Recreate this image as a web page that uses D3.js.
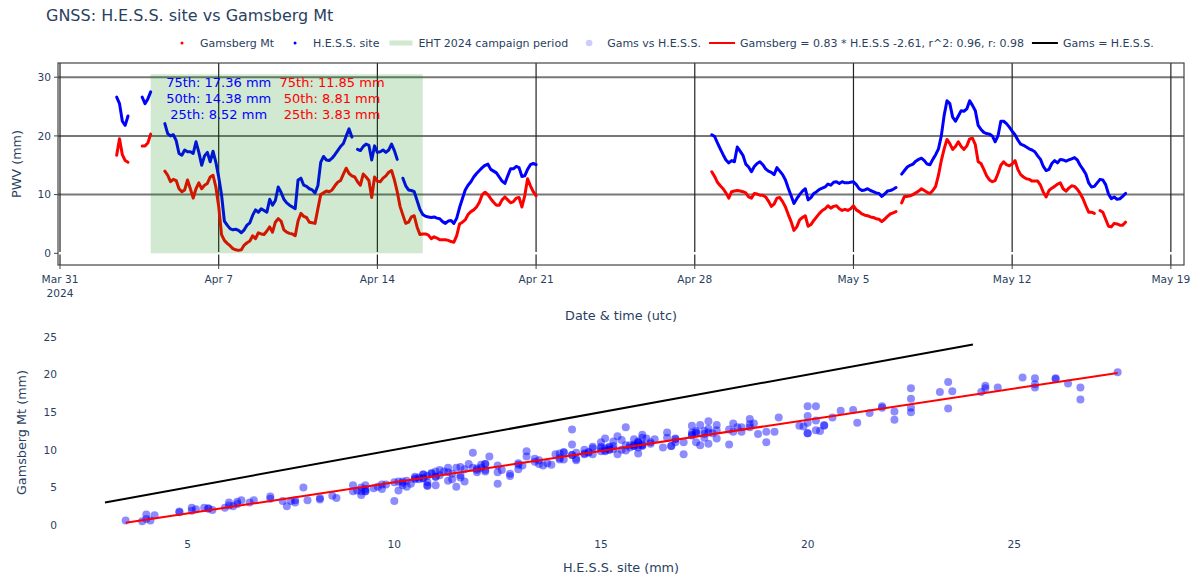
<!DOCTYPE html>
<html><head><meta charset="utf-8">
<script src="https://cdn.jsdelivr.net/npm/d3@7"></script>
<style>body{margin:0;background:#fff}svg{font-family:Verdana,"DejaVu Sans",sans-serif}</style>
</head><body><svg id="c" width="1198" height="580"></svg>
<script>
// ---------------- data ----------------
const chartTitle = "GNSS: H.E.S.S. site vs Gamsberg Mt";
const sampleStepHours = 3;
const segmentStarts = ["2024-04-02T12:00:00Z", "2024-04-03T15:00:00Z", "2024-04-04T15:00:00Z", "2024-04-28T18:00:00Z"];
// H.E.S.S. site PWV (mm), one value every 3 h from each segment start
const hessSeg1 = [26.6, 25.5, 22.5, 21.8, 23.4];
const hessSeg2 = [26.6, 25.5, 26.3, 27.5];
const hessSeg3 = [22.1, 20.4, 20.0,
  20.2, 19.2, 17.0, 16.7, 17.6, 17.3, 17.3, 17.0,
  19.0, 17.2, 15.0, 16.6, 17.2, 15.6, 17.4, 15.5,
  13.0, 10.0, 5.5, 4.8, 4.2, 4.0, 4.1, 3.9,
  3.5, 4.0, 4.8, 5.2, 6.5, 7.4, 7.0, 7.6,
  7.3, 7.0, 9.2, 8.2, 9.0, 11.3, 10.4, 9.2,
  8.6, 8.2, 7.9, 7.6, 12.5, 12.8, 11.6, 11.4,
  11.0, 10.8, 10.3, 11.5, 15.5, 16.5, 15.9, 15.8,
  16.2, 16.8, 17.5, 18.2, 18.7, 20.0, 21.2, 19.8,
  null, 17.7, 17.5, 18.2, 18.6, 18.4, 15.9, 18.3,
  17.2, 17.3, 17.6, 17.2, 17.6, 18.6, 17.5, 16.0,
  null, 12.8, 11.5, 10.8, 10.7, 10.5, 9.0, 7.5,
  6.6, 6.3, 6.2, 6.1, 6.2, 6.0, 5.9, 5.4,
  5.1, 5.5, 5.6, 5.1, 6.0, 7.8, 9.3, 10.8,
  11.6, 12.2, 13.0, 13.6, 14.1, 14.6, 15.0, 15.2,
  14.3, 14.0, 13.7, 13.0, 12.3, 11.9, 13.2, 14.4,
  14.4, 14.8, 14.6, 13.1, 13.2, 14.3, 15.1, 15.3,
  15.1];
const hessSeg4 = [20.2, 19.9,
  18.8, 17.8, 16.8, 15.9, 15.4, 15.8, 15.6, 18.1,
  17.4, 16.7, 15.2, 14.7, 13.9, 14.8, 15.3, 15.6,
  15.1, 14.4, 14.0, 13.8, 13.4, 14.6, 14.0, 13.4,
  12.5, 11.1, 9.8, 8.5, 9.3, 10.0, 10.6, 11.0,
  9.1, 9.5, 10.2, 10.5, 10.9, 11.1, 11.3, 11.8,
  11.6, 12.1, 12.2, 11.9, 12.2, 12.0, 12.0, 12.1,
  12.2, 11.7, 11.0, 10.7, 10.8, 11.0, 10.7, 10.5,
  10.3, 10.2, 9.7, 10.1, 10.6, 10.7, 10.9, 11.2,
  null, 13.5, 14.1, 14.7, 15.0, 15.2, 15.7, 16.0,
  16.2, 15.8, 15.2, 15.1, 16.0, 16.8, 17.8, 20.0,
  23.5, 26.0, 25.5, 23.2, 22.5, 23.4, 24.3, 24.2,
  24.6, 26.0, 25.2, 24.3, 21.8, 21.1, 20.6, 20.4,
  20.3, 20.0, 19.0, 20.0, 22.5, 22.5, 22.1, 21.5,
  20.8, 20.2, 19.3, 18.6, 18.4, 18.1, 17.8, 17.6,
  17.3, 16.6, 16.0, 14.8, 14.1, 14.3, 15.3, 15.8,
  15.4, 16.0, 15.9, 15.7, 15.9, 16.1, 16.3, 15.9,
  15.0, 14.3, 13.5, 12.0, 11.3, 11.4, 12.0, 12.6,
  12.5, 11.7, 10.1, 9.3, 9.6, 9.2, 9.3, 9.7,
  10.2];
// Gamsberg Mt PWV (mm)
const gamsSeg1 = [16.7, 19.5, 16.8, 15.8, 15.5];
const gamsSeg2 = [18.3, 18.3, 18.8, 20.3];
const gamsSeg3 = [14.0, 13.3, 12.2,
  12.6, 12.4, 11.0, 10.5, 10.8, 12.5, 11.0, 9.4,
  11.0, 12.0, 11.0, 11.6, 11.9, 13.0, 13.3, 11.3,
  8.0, 3.2, 2.2, 1.7, 1.3, 0.8, 0.6, 0.5,
  0.6, 1.4, 1.8, 2.1, 3.0, 2.5, 3.5, 3.3,
  3.2, 3.8, 4.5, 3.6, 5.3, 5.9, 5.5, 4.0,
  3.6, 3.4, 3.3, 3.0, 5.5, 6.8, 6.3, 6.1,
  5.3, 5.2, 5.1, 7.6, 10.0, 10.3, 10.6, 10.5,
  10.8, 11.5, 12.1, 12.4, 13.5, 14.5, 13.6, 13.2,
  13.0, 12.2, 11.6, 13.5, 13.0, 12.4, 9.5, 13.0,
  12.3, 12.2, 12.8, 13.2, 13.8, 14.1, 12.5, 10.5,
  8.0, 6.5, 5.1, 5.3, 6.2, 6.4, 4.5, 3.2,
  3.3, 3.3, 3.1, 2.5, 2.8, 2.6, 2.3, 2.3,
  2.3, 2.2, 2.0, 1.9, 3.0, 5.0, 5.3, 5.7,
  6.6, 7.1, 7.4, 7.9, 8.7, 10.0, 10.4, 10.0,
  9.3, 8.7, 8.2, 8.2, 9.1, 9.6, 9.1, 8.6,
  8.8, 9.4, 9.5, 7.9, 9.8, 12.7, 11.5, 10.5,
  9.8];
const gamsSeg4 = [13.9, 13.1,
  12.1, 11.5, 11.0, 10.3, 9.4, 10.5, 10.6, 10.7,
  10.6, 10.5, 10.3, 9.6, 9.4, 10.2, 10.1, 9.9,
  9.9, 9.6, 8.9, 8.0, 8.4, 9.4, 9.5, 8.8,
  7.9, 6.6, 5.4, 3.9, 4.5, 5.7, 6.1, 6.4,
  4.6, 4.9, 5.6, 6.2, 6.8, 7.3, 7.6, 8.1,
  7.7, 8.0, 8.1, 7.6, 7.3, 7.5, 7.3, 7.6,
  8.1, 7.4, 7.1, 6.7, 6.5, 6.4, 6.2, 6.1,
  5.9, 5.8, 5.4, 5.8, 6.3, 6.7, 6.9, 7.1,
  null, 8.6, 9.7, 9.7, 9.8, 10.0, 10.3, 10.6,
  11.0, 10.7, 10.4, 10.2, 10.7, 11.4, 13.3, 15.8,
  17.8, 19.4, 18.7, 17.7, 18.2, 19.0, 18.2, 17.7,
  18.3, 19.5, 19.6, 18.5, 15.6, 15.3, 14.3, 13.2,
  12.5, 12.2, 12.4, 13.6, 15.0, 15.6, 15.1, 14.9,
  15.2, 15.8, 14.3, 13.4, 13.0, 12.7, 12.6, 12.3,
  12.3, 12.3, 11.6, 10.4, 9.6, 10.7, 11.1, 11.4,
  11.8, 12.0, 11.0, 10.6, 11.1, 11.5, 11.4, 10.9,
  10.2, 9.3, 8.1, 7.0, 7.0, 6.8, null, 7.3,
  7.0, 5.8, 4.6, 4.5, 5.1, 5.0, 4.8, 4.8,
  5.3];
const campaignPeriod = ["2024-04-04T00:00:00Z", "2024-04-16T00:00:00Z"];
const campaignTopPWV = 30.5;
const timeTicks = ["2024-03-31", "2024-04-07", "2024-04-14", "2024-04-21", "2024-04-28", "2024-05-05", "2024-05-12", "2024-05-19"];
const pwvTicks = [0, 10, 20, 30];
const scatterXTicks = [5, 10, 15, 20, 25];
const scatterYTicks = [0, 5, 10, 15, 20, 25];
const hessPercentileText = ["75th: 17.36 mm", "50th: 14.38 mm", "25th: 8.52 mm"];
const gamsPercentileText = ["75th: 11.85 mm", "50th: 8.81 mm", "25th: 3.83 mm"];
const hessTextAnchor = ["2024-04-07T00:00:00Z", 26.3];
const gamsTextAnchor = ["2024-04-12T00:00:00Z", 26.3];
const fitSlope = 0.83, fitIntercept = -2.61;
const identityRange = [3, 24];
const legendLabels = ["Gamsberg Mt", "H.E.S.S. site", "EHT 2024 campaign period", "Gams vs H.E.S.S.",
  "Gamsberg = 0.83 * H.E.S.S -2.61, r^2: 0.96, r: 0.98", "Gams = H.E.S.S."];

// ---------------- layout ----------------
const FONT_COLOR = "#2a3f5f";
const svg = d3.select("#c");
const P1 = {l: 58, r: 1184, t: 63, b: 265};
const P2 = {l: 62, r: 1185, t: 330, b: 535};

const x = d3.scaleUtc().domain([new Date("2024-03-30T21:53:00Z"), new Date("2024-05-19T13:55:00Z")]).range([P1.l, P1.r]);
const y = d3.scaleLinear().domain([-1.99, 32.42]).range([P1.b, P1.t]);
const xs = d3.scaleLinear().domain([1.96, 29.13]).range([P2.l, P2.r]);
const ys = d3.scaleLinear().domain([-1.33, 25.93]).range([P2.b, P2.t]);

function buildSeries(segs) {
  return segs.map((vals, k) => {
    const t0 = new Date(segmentStarts[k]).getTime();
    return vals.map((v, i) => ({t: new Date(t0 + i * sampleStepHours * 3600e3), v}));
  });
}
const hessSegs = [hessSeg1, hessSeg2, hessSeg3, hessSeg4];
const gamsSegs = [gamsSeg1, gamsSeg2, gamsSeg3, gamsSeg4];
const hessSeries = buildSeries(hessSegs);
const gamsSeries = buildSeries(gamsSegs);

// ---------------- top plot ----------------
const g1 = svg.append("g");
g1.selectAll("line.hg").data(pwvTicks.filter(d => d !== 0)).join("line")
  .attr("x1", P1.l).attr("x2", P1.r).attr("y1", d => y(d)).attr("y2", d => y(d))
  .attr("stroke", "#777").attr("stroke-width", 2);
g1.selectAll("line.vg").data(timeTicks).join("line")
  .attr("x1", d => x(new Date(d + "T00:00:00Z"))).attr("x2", d => x(new Date(d + "T00:00:00Z")))
  .attr("y1", P1.t).attr("y2", P1.b).attr("stroke", "#222").attr("stroke-width", 1.2);
g1.append("line").attr("x1", P1.l).attr("x2", P1.r).attr("y1", y(0)).attr("y2", y(0))
  .attr("stroke", "#fff").attr("stroke-width", 2.5);
g1.append("rect").attr("x", P1.l).attr("y", P1.t).attr("width", P1.r - P1.l).attr("height", P1.b - P1.t)
  .attr("fill", "none").attr("stroke", "#444").attr("stroke-width", 1.2);
g1.selectAll("line.xt").data(timeTicks).join("line")
  .attr("x1", d => x(new Date(d + "T00:00:00Z"))).attr("x2", d => x(new Date(d + "T00:00:00Z")))
  .attr("y1", P1.b).attr("y2", P1.b + 4).attr("stroke", "#444");
g1.selectAll("line.yt").data(pwvTicks).join("line")
  .attr("x1", P1.l - 4).attr("x2", P1.l).attr("y1", d => y(d)).attr("y2", d => y(d)).attr("stroke", "#444");

const line = d3.line().defined(d => d.v != null).x(d => x(d.t)).y(d => y(d.v));
function drawSeries(series, color) {
  series.forEach(seg => {
    g1.append("path").datum(seg).attr("d", line).attr("fill", "none").attr("stroke", color)
      .attr("stroke-width", 3).attr("stroke-linejoin", "round").attr("stroke-linecap", "round");
  });
}
drawSeries(gamsSeries, "#ff0000");
drawSeries(hessSeries, "#0000ff");

const c0 = x(new Date(campaignPeriod[0])), c1 = x(new Date(campaignPeriod[1]));
g1.append("rect").attr("x", c0).attr("width", c1 - c0).attr("y", y(campaignTopPWV)).attr("height", y(0) - y(campaignTopPWV))
  .attr("fill", "#008000").attr("fill-opacity", 0.18);

function annot(lines, anchor, color) {
  const ax = x(new Date(anchor[0])), ay = y(anchor[1]);
  lines.forEach((s, i) => {
    g1.append("text").attr("x", ax).attr("y", ay + (i - 1) * 16).attr("dy", "0.35em")
      .attr("text-anchor", "middle").attr("fill", color).attr("font-size", 13).text(s);
  });
}
annot(hessPercentileText, hessTextAnchor, "#0000ff");
annot(gamsPercentileText, gamsTextAnchor, "#ff0000");

const fmt = d3.utcFormat("%b %-d");
timeTicks.forEach((d, i) => {
  const t = new Date(d + "T00:00:00Z");
  g1.append("text").attr("x", x(t)).attr("y", 279).attr("dy", "0.35em").attr("text-anchor", "middle")
    .attr("font-size", 10.6).attr("fill", FONT_COLOR).text(fmt(t));
  if (i === 0) g1.append("text").attr("x", x(t)).attr("y", 293).attr("dy", "0.35em").attr("text-anchor", "middle")
    .attr("font-size", 10.6).attr("fill", FONT_COLOR).text(d3.utcFormat("%Y")(t));
});
pwvTicks.forEach(v => {
  g1.append("text").attr("x", 51).attr("y", y(v)).attr("dy", "0.35em").attr("text-anchor", "end")
    .attr("font-size", 10.6).attr("fill", FONT_COLOR).text(v);
});
g1.append("text").attr("transform", `translate(17,${(P1.t + P1.b) / 2}) rotate(-90)`).attr("dy", "0.35em")
  .attr("text-anchor", "middle").attr("font-size", 12.8).attr("fill", FONT_COLOR).text("PWV (mm)");
g1.append("text").attr("x", 621).attr("y", 316).attr("dy", "0.35em").attr("text-anchor", "middle")
  .attr("font-size", 12.8).attr("fill", FONT_COLOR).text("Date & time (utc)");

// ---------------- bottom scatter ----------------
const g2 = svg.append("g");
const pairs = [];
hessSegs.forEach((hs, k) => hs.forEach((h, i) => {
  const gm = gamsSegs[k][i];
  if (h != null && gm != null) pairs.push([h, gm]);
}));
g2.selectAll("circle").data(pairs).join("circle")
  .attr("cx", d => xs(d[0])).attr("cy", d => ys(d[1])).attr("r", 4)
  .attr("fill", "#0000ff").attr("fill-opacity", 0.45);
const hx = d3.extent(pairs, d => d[0]);
g2.append("line").attr("x1", xs(hx[0])).attr("y1", ys(fitSlope * hx[0] + fitIntercept))
  .attr("x2", xs(hx[1])).attr("y2", ys(fitSlope * hx[1] + fitIntercept))
  .attr("stroke", "#ff0000").attr("stroke-width", 2);
g2.append("line").attr("x1", xs(identityRange[0])).attr("y1", ys(identityRange[0]))
  .attr("x2", xs(identityRange[1])).attr("y2", ys(identityRange[1]))
  .attr("stroke", "#000").attr("stroke-width", 2);
scatterXTicks.forEach(v => g2.append("text").attr("x", xs(v)).attr("y", 544).attr("dy", "0.35em")
  .attr("text-anchor", "middle").attr("font-size", 10.6).attr("fill", FONT_COLOR).text(v));
scatterYTicks.forEach(v => g2.append("text").attr("x", 57).attr("y", ys(v)).attr("dy", "0.35em")
  .attr("text-anchor", "end").attr("font-size", 10.6).attr("fill", FONT_COLOR).text(v));
g2.append("text").attr("transform", `translate(22,${(P2.t + P2.b) / 2}) rotate(-90)`).attr("dy", "0.35em")
  .attr("text-anchor", "middle").attr("font-size", 12.8).attr("fill", FONT_COLOR).text("Gamsberg Mt (mm)");
g2.append("text").attr("x", 621).attr("y", 568).attr("dy", "0.35em").attr("text-anchor", "middle")
  .attr("font-size", 12.8).attr("fill", FONT_COLOR).text("H.E.S.S. site (mm)");

// ---------------- title & legend ----------------
svg.append("text").attr("x", 46).attr("y", 15).attr("dy", "0.35em").attr("font-size", 16)
  .attr("fill", FONT_COLOR).text(chartTitle);
const legendKinds = [
  {kind: "dot", color: "#ff0000", r: 1.5, op: 1},
  {kind: "dot", color: "#0000ff", r: 1.5, op: 1},
  {kind: "rect", color: "#008000", op: 0.18},
  {kind: "dot", color: "#0000ff", r: 3.3, op: 0.2},
  {kind: "line", color: "#ff0000"},
  {kind: "line", color: "#000000"}
];
const LY = 43;
let lx = 182;
const lg = svg.append("g");
legendLabels.forEach((lab, i) => {
  const k = legendKinds[i];
  if (k.kind === "dot") lg.append("circle").attr("cx", lx).attr("cy", LY).attr("r", k.r).attr("fill", k.color).attr("fill-opacity", k.op);
  else if (k.kind === "rect") lg.append("rect").attr("x", lx - 11).attr("y", LY - 2.5).attr("width", 23).attr("height", 5).attr("fill", k.color).attr("fill-opacity", k.op);
  else lg.append("line").attr("x1", lx - 13).attr("x2", lx + 13).attr("y1", LY).attr("y2", LY).attr("stroke", k.color).attr("stroke-width", 2);
  const t = lg.append("text").attr("x", lx + 18).attr("y", LY).attr("dy", "0.35em").attr("font-size", 11)
    .attr("fill", FONT_COLOR).text(lab);
  lx = lx + 18 + t.node().getComputedTextLength() + 21;
});
</script></body></html>
